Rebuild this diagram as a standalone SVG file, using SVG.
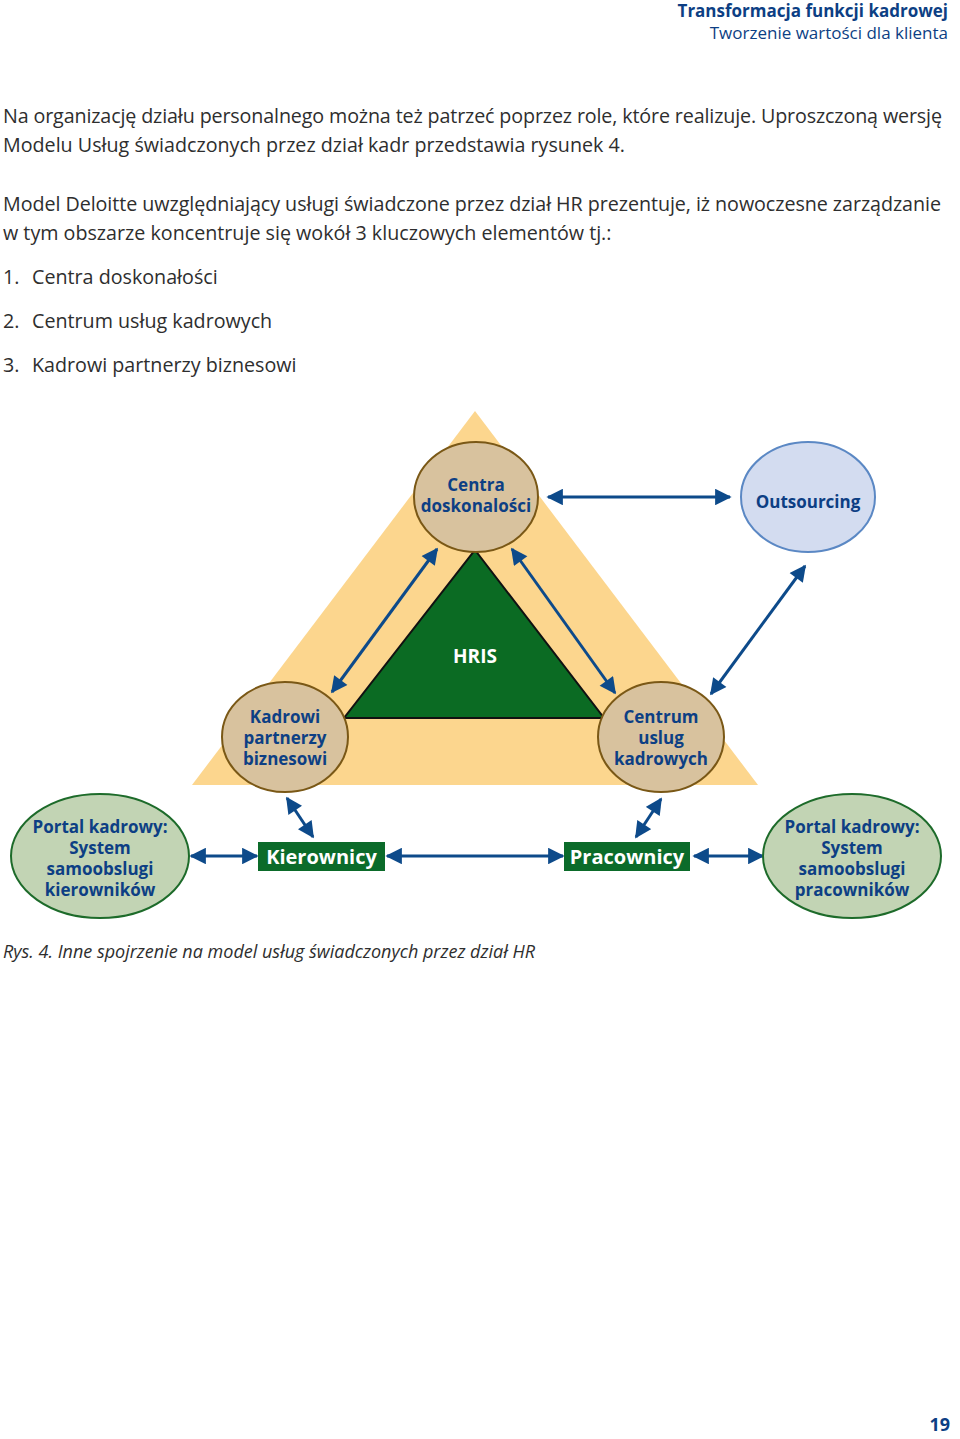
<svg xmlns="http://www.w3.org/2000/svg" width="960" height="1439" viewBox="0 0 960 1439">
<defs>
<marker id="ah" viewBox="0 0 10 10" refX="9" refY="5" markerWidth="6" markerHeight="5.5" orient="auto-start-reverse" markerUnits="strokeWidth">
<path d="M0,0 L10,5 L0,10 z" fill="#0D4A8A"/>
</marker>
<style>
.body{font-family:"Open Sans","Noto Sans",sans-serif;font-size:19.7px;fill:#2E2E2E}
.hdr{font-family:"Open Sans","Noto Sans",sans-serif;font-size:17px;fill:#0D3F84;text-anchor:end}
.lbl{font-family:"Open Sans","Noto Sans",sans-serif;font-size:17px;font-weight:bold;fill:#0D3F84;text-anchor:middle}
.wl{font-family:"Open Sans","Noto Sans",sans-serif;font-weight:bold;fill:#ffffff;text-anchor:middle}
.tan{fill:#D8C29E;stroke:#7A5816;stroke-width:2}
.sage{fill:#C2D4B4;stroke:#1D6B2A;stroke-width:2}
.con{stroke:#0D4A8A;stroke-width:3;fill:none;marker-start:url(#ah);marker-end:url(#ah)}
</style>
</defs>
<rect width="960" height="1439" fill="#ffffff"/>
<g id="header">
<text class="hdr" x="948" y="17" font-weight="bold">Transformacja funkcji kadrowej</text>
<text class="hdr" x="948" y="39">Tworzenie wartości dla klienta</text>
</g>
<g id="bodytext">
<text class="body" x="3" y="123" textLength="939">Na organizację działu personalnego można też patrzeć poprzez role, które realizuje. Uproszczoną wersję</text>
<text class="body" x="3" y="152">Modelu Usług świadczonych przez dział kadr przedstawia rysunek 4.</text>
<text class="body" x="3" y="211" textLength="938">Model Deloitte uwzględniający usługi świadczone przez dział HR prezentuje, iż nowoczesne zarządzanie</text>
<text class="body" x="3" y="240">w tym obszarze koncentruje się wokół 3 kluczowych elementów tj.:</text>
<text class="body" y="284"><tspan x="3">1.</tspan><tspan x="32">Centra doskonałości</tspan></text>
<text class="body" y="328"><tspan x="3">2.</tspan><tspan x="32">Centrum usług kadrowych</tspan></text>
<text class="body" y="372"><tspan x="3">3.</tspan><tspan x="32">Kadrowi partnerzy biznesowi</tspan></text>
</g>
<g id="bigTriangle"><polygon points="475,411 758,785 192,785" fill="#FCD68E"/></g>
<g id="hris">
<polygon points="475,550 604,718 344,718" fill="#0B6B23" stroke="#111111" stroke-width="2"/>
<text class="wl" x="475" y="663" font-size="19">HRIS</text>
</g>
<g id="connectors">
<line class="con" x1="548" y1="497" x2="730" y2="497"/>
<line class="con" x1="437" y1="549" x2="332" y2="692"/>
<line class="con" x1="512" y1="549" x2="615" y2="693"/>
<line class="con" x1="805" y1="566" x2="711" y2="694"/>
<line class="con" x1="287" y1="798" x2="313" y2="837"/>
<line class="con" x1="661" y1="799" x2="636" y2="837"/>
<line class="con" x1="191" y1="856" x2="257" y2="856"/>
<line class="con" x1="387" y1="856" x2="563" y2="856"/>
<line class="con" x1="694" y1="856" x2="763" y2="856"/>
</g>
<g id="centra">
<ellipse class="tan" cx="476" cy="497" rx="62" ry="55"/>
<text class="lbl" x="476" y="491">Centra</text>
<text class="lbl" x="476" y="512">doskonalości</text>
</g>
<g id="outsourcing">
<ellipse cx="808" cy="497" rx="67" ry="55" fill="#D3DCF0" stroke="#5B88C4" stroke-width="2"/>
<text class="lbl" x="808" y="508">Outsourcing</text>
</g>
<g id="kadrowi">
<ellipse class="tan" cx="285" cy="737" rx="63" ry="55"/>
<text class="lbl" x="285" y="723">Kadrowi</text>
<text class="lbl" x="285" y="744">partnerzy</text>
<text class="lbl" x="285" y="765">biznesowi</text>
</g>
<g id="centrum">
<ellipse class="tan" cx="661" cy="737" rx="63" ry="55"/>
<text class="lbl" x="661" y="723">Centrum</text>
<text class="lbl" x="661" y="744">uslug</text>
<text class="lbl" x="661" y="765">kadrowych</text>
</g>
<g id="portalLeft">
<ellipse class="sage" cx="100" cy="856" rx="89" ry="62"/>
<text class="lbl" x="100" y="833">Portal kadrowy:</text>
<text class="lbl" x="100" y="854">System</text>
<text class="lbl" x="100" y="875">samoobslugi</text>
<text class="lbl" x="100" y="896">kierowników</text>
</g>
<g id="portalRight">
<ellipse class="sage" cx="852" cy="856" rx="89" ry="62"/>
<text class="lbl" x="852" y="833">Portal kadrowy:</text>
<text class="lbl" x="852" y="854">System</text>
<text class="lbl" x="852" y="875">samoobslugi</text>
<text class="lbl" x="852" y="896">pracowników</text>
</g>
<g id="kierownicy">
<rect x="258" y="842" width="127" height="29" fill="#0B6B2A"/>
<text class="wl" x="321.5" y="864" font-size="20">Kierownicy</text>
</g>
<g id="pracownicy">
<rect x="564" y="842" width="126" height="29" fill="#0B6B2A"/>
<text class="wl" x="627" y="864" font-size="20">Pracownicy</text>
</g>
<g id="caption">
<text x="3" y="958" font-family="'Open Sans','Noto Sans',sans-serif" font-size="18" font-style="italic" fill="#2E2E2E">Rys. 4. Inne spojrzenie na model usług świadczonych przez dział HR</text>
</g>
<g id="pagenum">
<text x="950" y="1431" font-family="'Open Sans','Noto Sans',sans-serif" font-size="18" font-weight="bold" fill="#0D3F84" text-anchor="end">19</text>
</g>
</svg>
